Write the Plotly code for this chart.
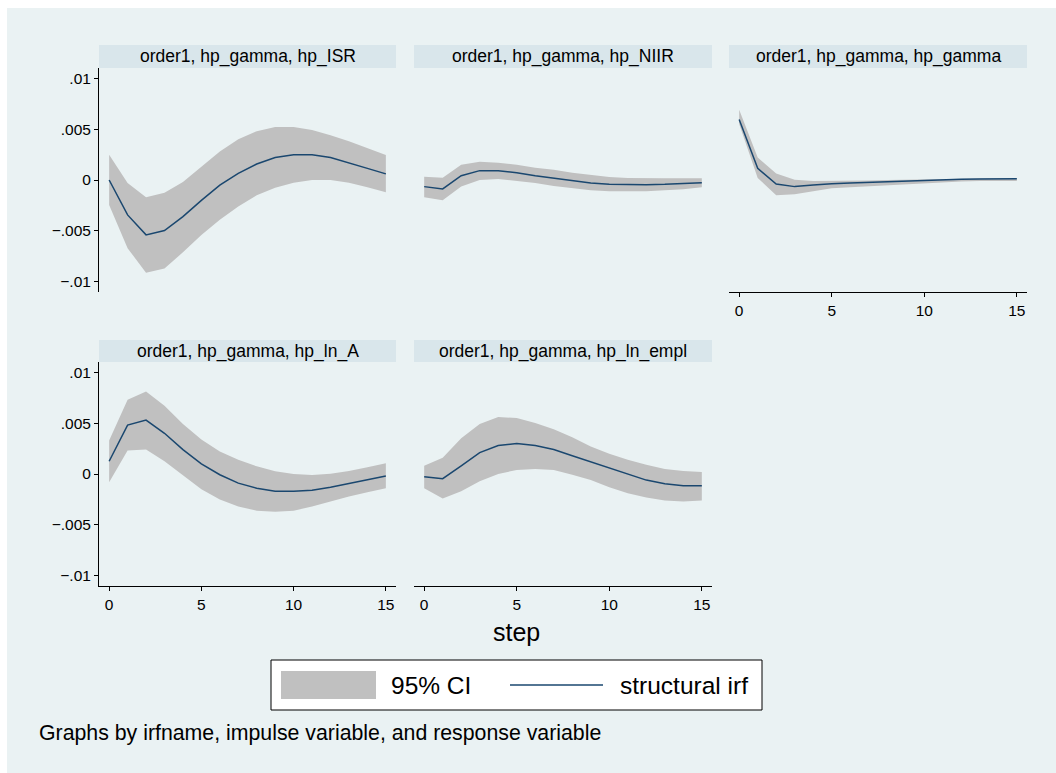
import plotly.graph_objects as go

# Impulse-response functions: impulse hp_gamma, five responses, steps 0..15
steps = list(range(16))

titles = [
    "order1, hp_gamma, hp_ISR",
    "order1, hp_gamma, hp_NIIR",
    "order1, hp_gamma, hp_gamma",
    "order1, hp_gamma, hp_ln_A",
    "order1, hp_gamma, hp_ln_empl",
]

isr_irf = [0.0, -0.00343, -0.00539, -0.00497, -0.0036, -0.0020, -0.0005, 0.00065,
           0.00157, 0.0022, 0.00248, 0.00248, 0.0022, 0.0017, 0.00114, 0.0006]
isr_hi = [0.00248, -0.0003, -0.0017, -0.00124, -0.0002, 0.0013, 0.0028, 0.0040,
          0.0048, 0.0052, 0.0052, 0.0049, 0.0044, 0.0038, 0.0031, 0.00245]
isr_lo = [-0.00245, -0.0067, -0.0091, -0.0087, -0.0071, -0.0054, -0.0039, -0.0026,
          -0.0015, -0.00075, -0.00026, 0.0, 0.0, -0.00026, -0.0007, -0.0012]

niir_irf = [-0.00065, -0.00088, 0.00042, 0.00092, 0.00092, 0.00072, 0.00042, 0.00016,
            -0.0001, -0.0003, -0.00042, -0.00046, -0.00046, -0.00042, -0.00036, -0.00026]
niir_hi = [0.00033, 0.00023, 0.0015, 0.0018, 0.0017, 0.0015, 0.0012, 0.0010,
           0.0007, 0.0005, 0.0003, 0.0002, 0.00016, 0.00016, 0.00016, 0.00016]
niir_lo = [-0.0017, -0.0020, -0.00065, 0.0, 0.0001, -0.00007, -0.0003, -0.0006,
           -0.0008, -0.0010, -0.0011, -0.0011, -0.0011, -0.0010, -0.0009, -0.0007]

gamma_irf = [0.00595, 0.00114, -0.0004, -0.00065, -0.0005, -0.00036, -0.0003, -0.00023,
             -0.00016, -0.0001, -0.00003, 0.00003, 0.00007, 0.0001, 0.00013, 0.00013]
gamma_hi = [0.0069, 0.0022, 0.00065, 0.00003, -0.0001, -0.0001, -0.0001, -0.00005,
            0.0, 0.00003, 0.00007, 0.0001, 0.00013, 0.00016, 0.0002, 0.0002]
gamma_lo = [0.0055, 0.0002, -0.0015, -0.0014, -0.0011, -0.0008, -0.0007, -0.0006,
            -0.0005, -0.0004, -0.0003, -0.0002, -0.00015, -0.0001, -0.0001, -0.0001]

lna_irf = [0.00125, 0.0048, 0.0053, 0.0040, 0.0024, 0.0010, -0.00007, -0.0009,
           -0.0014, -0.0017, -0.0017, -0.0016, -0.0013, -0.00095, -0.00056, -0.0002]
lna_hi = [0.0033, 0.0073, 0.0081, 0.0067, 0.0049, 0.0034, 0.0022, 0.0014,
          0.00075, 0.00026, 0.0, -0.0001, 0.00003, 0.0003, 0.00066, 0.00105]
lna_lo = [-0.0008, 0.0023, 0.0024, 0.00125, -0.00013, -0.0015, -0.0025, -0.0032,
          -0.0036, -0.0037, -0.0036, -0.0032, -0.0027, -0.0022, -0.0018, -0.0014]

empl_irf = [-0.00026, -0.00046, 0.0008, 0.0021, 0.0028, 0.0030, 0.0028, 0.0024,
            0.0018, 0.0012, 0.00056, -0.00003, -0.0006, -0.00095, -0.00115, -0.00115]
empl_hi = [0.0008, 0.0016, 0.0035, 0.0049, 0.0056, 0.0055, 0.0050, 0.0044,
           0.0036, 0.0027, 0.0020, 0.0014, 0.0009, 0.0005, 0.0003, 0.0002]
empl_lo = [-0.0014, -0.0024, -0.0017, -0.0007, 0.0, 0.0004, 0.0005, 0.0004,
           -0.00007, -0.0006, -0.0013, -0.0019, -0.0023, -0.0026, -0.0027, -0.0026]

y_tickvals = [0.01, 0.005, 0.0, -0.005, -0.01]
y_ticktext = [".01", ".005", "0", "\u2212.005", "\u2212.01"]
x_tickvals = [0, 5, 10, 15]

series = [
    (isr_irf, isr_lo, isr_hi),
    (niir_irf, niir_lo, niir_hi),
    (gamma_irf, gamma_lo, gamma_hi),
    (lna_irf, lna_lo, lna_hi),
    (empl_irf, empl_lo, empl_hi),
]

W, H = 1056, 773
BG = "#EAF2F3"
STRIP = "#D9E6EB"
GRID = "#EAF2F3"
BAND = "#C0C0C0"
LINE = "#1A476F"
FONT = "Liberation Sans, Arial, sans-serif"


def px_x(x):
    return x / W


def px_y(y):
    return 1 - y / H


# panel placement in pixels: (left, right) columns and (strip top, plot top, plot bottom) rows
cols = [(99, 396), (414, 712), (729, 1027)]
rows = [(45, 68, 292), (340, 362, 586)]
slots = [(0, 0), (0, 1), (0, 2), (1, 0), (1, 1)]
x_axis_shown = [False, False, True, True, True]
y_axis_shown = [True, False, False, True, False]

fig = go.Figure()
shapes = []
annotations = []

# figure background with a thin white margin on the top and left
shapes.append(dict(type="rect", xref="paper", yref="paper", x0=px_x(7), x1=1,
                   y0=0, y1=px_y(8), fillcolor=BG, line=dict(width=0), layer="below"))

for i, ((irf, lo, hi), (r, c)) in enumerate(zip(series, slots)):
    n = i + 1
    xa = "x" if n == 1 else f"x{n}"
    ya = "y" if n == 1 else f"y{n}"
    fig.add_trace(go.Scatter(x=steps, y=lo, xaxis=xa, yaxis=ya, mode="lines",
                             line=dict(width=0, color=BAND), showlegend=False,
                             hoverinfo="skip"))
    fig.add_trace(go.Scatter(x=steps, y=hi, xaxis=xa, yaxis=ya, mode="lines",
                             line=dict(width=0, color=BAND), fill="tonexty",
                             fillcolor=BAND, showlegend=False, name="95% CI"))
    fig.add_trace(go.Scatter(x=steps, y=irf, xaxis=xa, yaxis=ya, mode="lines",
                             line=dict(width=1.5, color=LINE), showlegend=False,
                             name="structural irf"))

    x0, x1 = cols[c]
    st, pt, pb = rows[r]
    xkey = "xaxis" if n == 1 else f"xaxis{n}"
    ykey = "yaxis" if n == 1 else f"yaxis{n}"
    fig.update_layout({
        xkey: dict(domain=[px_x(x0), px_x(x1)], anchor=ya, range=[-0.55, 15.55],
                   tickvals=x_tickvals, showgrid=False, zeroline=False,
                   showline=x_axis_shown[i], linecolor="#000000", linewidth=1,
                   ticks="outside" if x_axis_shown[i] else "", ticklen=4,
                   tickcolor="#000000", showticklabels=x_axis_shown[i],
                   tickfont=dict(family=FONT, size=15.5, color="#000000")),
        ykey: dict(domain=[px_y(pb), px_y(pt)], anchor=xa, range=[-0.011, 0.011],
                   tickvals=y_tickvals, ticktext=y_ticktext, showgrid=True,
                   gridcolor=GRID, gridwidth=1, zeroline=False,
                   showline=y_axis_shown[i], linecolor="#000000", linewidth=1,
                   ticks="outside" if y_axis_shown[i] else "", ticklen=4,
                   tickcolor="#000000", showticklabels=y_axis_shown[i],
                   tickfont=dict(family=FONT, size=15.5, color="#000000")),
    })

    # subtitle strip above each panel
    shapes.append(dict(type="rect", xref="paper", yref="paper",
                       x0=px_x(x0), x1=px_x(x1), y0=px_y(pt), y1=px_y(st),
                       fillcolor=STRIP, line=dict(width=0), layer="below"))
    annotations.append(dict(xref="paper", yref="paper", x=px_x((x0 + x1) / 2),
                            y=px_y((st + pt) / 2), text=titles[i], showarrow=False,
                            xanchor="center", yanchor="middle",
                            font=dict(family=FONT, size=17.5, color="#000000")))

# common x-axis title
annotations.append(dict(xref="paper", yref="paper", x=px_x(516), y=px_y(632),
                        text="step", showarrow=False, xanchor="center", yanchor="middle",
                        font=dict(family=FONT, size=25, color="#000000")))

# key: shaded band and line sample
shapes.append(dict(type="rect", xref="paper", yref="paper", x0=px_x(271), x1=px_x(762),
                   y0=px_y(710), y1=px_y(660), fillcolor="#FFFFFF",
                   line=dict(color="#000000", width=1)))
shapes.append(dict(type="rect", xref="paper", yref="paper", x0=px_x(281), x1=px_x(376),
                   y0=px_y(699), y1=px_y(671), fillcolor=BAND, line=dict(width=0)))
shapes.append(dict(type="line", xref="paper", yref="paper", x0=px_x(510), x1=px_x(603),
                   y0=px_y(685), y1=px_y(685), line=dict(color=LINE, width=1.5)))
annotations.append(dict(xref="paper", yref="paper", x=px_x(389), y=px_y(685),
                        text="95% CI", showarrow=False, xanchor="left", yanchor="middle",
                        font=dict(family=FONT, size=24.5, color="#000000")))
annotations.append(dict(xref="paper", yref="paper", x=px_x(618), y=px_y(685),
                        text="structural irf", showarrow=False, xanchor="left",
                        yanchor="middle", font=dict(family=FONT, size=24.5, color="#000000")))

# note
annotations.append(dict(xref="paper", yref="paper", x=px_x(37), y=px_y(733),
                        text="Graphs by irfname, impulse variable, and response variable",
                        showarrow=False, xanchor="left", yanchor="middle",
                        font=dict(family=FONT, size=21.3, color="#000000")))

fig.update_layout(
    width=W, height=H,
    margin=dict(l=0, r=0, t=0, b=0),
    paper_bgcolor="#FFFFFF",
    plot_bgcolor="#FFFFFF",
    shapes=shapes,
    annotations=annotations,
    showlegend=False,
)

fig.write_html("out.html")
